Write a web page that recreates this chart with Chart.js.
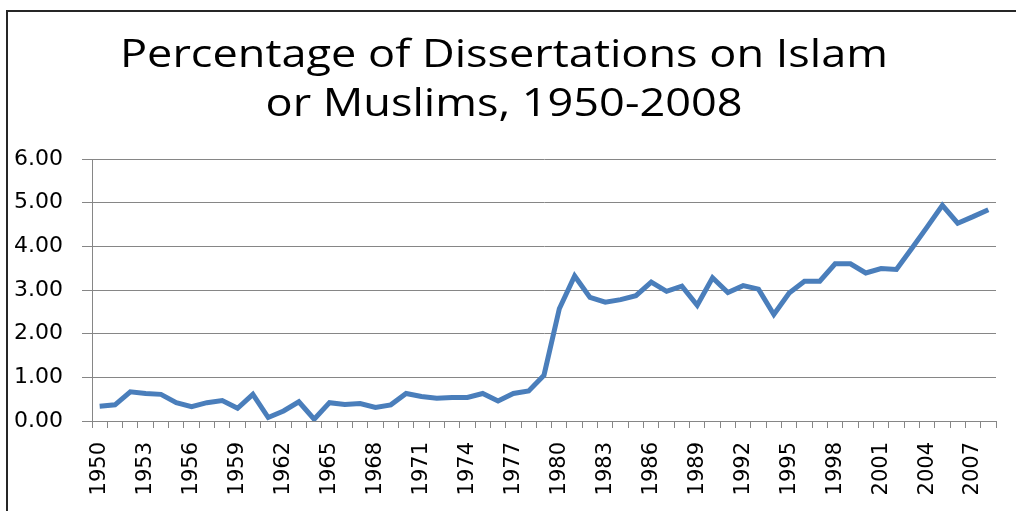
<!DOCTYPE html>
<html>
<head>
<meta charset="utf-8">
<script src="https://cdn.jsdelivr.net/npm/chart.js@4"></script>
<style>
  body { margin: 0; background: #fff; }
  #wrap { position: relative; width: 1016px; height: 511px; }
  #frame { position: absolute; left: 6px; top: 10px; right: 0; bottom: 0;
           border-top: 2px solid #262626; border-left: 2px solid #262626; pointer-events: none; }
</style>
</head>
<body>
<div id="wrap">
  <canvas id="chart"></canvas>
  <div id="frame"></div>
</div>
<script>
const titleLines = ["Percentage of Dissertations on Islam", "or Muslims, 1950-2008"];

const years = [];
for (let y = 1950; y <= 2008; y++) years.push(String(y));

const percentages = [
  0.34, 0.37, 0.67, 0.63, 0.61, 0.42, 0.33, 0.42, 0.47, 0.29,
  0.61, 0.08, 0.23, 0.44, 0.04, 0.42, 0.38, 0.40, 0.31, 0.37,
  0.63, 0.56, 0.52, 0.54, 0.54, 0.63, 0.46, 0.63, 0.69, 1.05,
  2.57, 3.32, 2.83, 2.72, 2.78, 2.87, 3.18, 2.97, 3.09, 2.65,
  3.28, 2.94, 3.10, 3.02, 2.44, 2.93, 3.20, 3.20, 3.60, 3.60,
  3.39, 3.49, 3.47, 3.95, 4.44, 4.94, 4.53, 4.68, 4.84
];

const yTicks = [0, 1, 2, 3, 4, 5, 6];

// title drawn by hand so it can be stretched like the original
const titlePlugin = {
  id: 'stretchedTitle',
  afterDraw(chart) {
    const ctx = chart.ctx;
    ctx.save();
    ctx.font = '38px "Open Sans"';
    ctx.fillStyle = '#000';
    ctx.textAlign = 'center';
    ctx.textBaseline = 'alphabetic';
    const sx = 768 / ctx.measureText(titleLines[0]).width;
    [[titleLines[0], 67], [titleLines[1], 116]].forEach(([txt, y]) => {
      ctx.save();
      ctx.translate(504, y);
      ctx.scale(sx, 1);
      ctx.fillText(txt, 0, 0);
      ctx.restore();
    });
    ctx.restore();
  }
};

new Chart(document.getElementById('chart'), {
  type: 'line',
  data: {
    labels: years,
    datasets: [{
      data: percentages,
      borderColor: '#4a7ebb',
      borderWidth: 5,
      pointRadius: 0,
      tension: 0,
      fill: false
    }]
  },
  options: {
    responsive: true,
    maintainAspectRatio: false,
    animation: false,
    layout: { padding: { top: 159, left: 8, right: 20, bottom: 0 } },
    plugins: { legend: { display: false }, title: { display: false }, tooltip: { enabled: false } },
    scales: {
      x: {
        offset: true,
        grid: { offset: true, drawOnChartArea: false, drawTicks: true, tickLength: 7, color: '#868686' },
        border: { color: '#868686' },
        ticks: {
          autoSkip: false,
          maxRotation: 90,
          minRotation: 90,
          padding: 14,
          color: '#000',
          font: { family: 'DejaVu Sans', size: 21 },
          callback: function (v, i) { return i % 3 === 0 ? this.getLabelForValue(v) : ''; }
        },
        afterFit(scale) {
          scale.height = 90;
          scale.paddingLeft = 0;
          scale.paddingRight = 0;
        }
      },
      y: {
        min: 0,
        max: 6,
        afterBuildTicks(scale) { scale.ticks = yTicks.map(v => ({ value: v })); },
        grid: { color: '#868686', tickLength: 10 },
        border: { color: '#868686' },
        ticks: {
          padding: 19,
          color: '#000',
          font: { family: 'DejaVu Sans', size: 22 },
          callback: v => Number(v).toFixed(2)
        },
        afterFit(scale) { scale.width = 84; }
      }
    }
  },
  plugins: [titlePlugin]
});
</script>
</body>
</html>
